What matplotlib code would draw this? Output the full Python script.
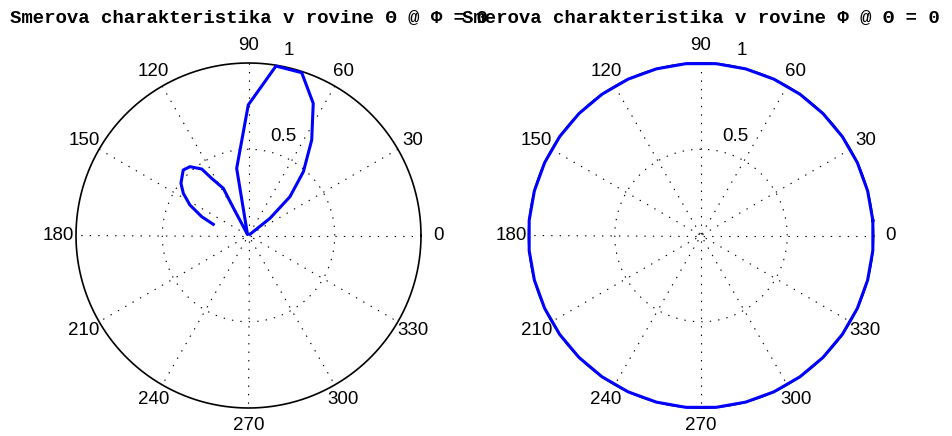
import numpy as np
import matplotlib
matplotlib.use('Agg')
import matplotlib.pyplot as plt

plt.rcParams['lines.scale_dashes'] = False

# ---- data ----
theta_left_deg = [162.4, 158.1, 152.5, 147.1, 142.3, 134.9, 130.4, 125.1, 122.8,
                  118.1, 118.7, 135.0, 100.0, 90.1, 80.8, 71.9, 63.9, 56.5, 49.3,
                  43.1, 38.7, 38.7]
r_left = [0.214, 0.292, 0.383, 0.450, 0.495, 0.536, 0.524, 0.471, 0.394,
          0.310, 0.190, 0.008, 0.395, 0.757, 0.995, 0.993, 0.853, 0.664, 0.488,
          0.329, 0.160, 0.011]

theta_right_deg = [5, 15, 25, 35, 45, 55, 65, 75, 85, 95, 105, 115, 125, 135, 145,
                   155, 165, 175, 185, 195, 205, 215, 225, 235, 245, 255, 265, 275,
                   285, 295, 305, 315, 325, 335, 345, 355, 5]
r_right = [1.0, 1.0, 1.0, 1.0, 1.0, 1.0, 1.0, 1.0, 1.0, 1.0, 1.0, 1.0, 1.0, 1.0,
           1.0, 1.0, 1.0, 1.0, 1.0, 1.0, 1.0, 1.0, 1.0, 1.0, 1.0, 1.0, 1.0, 1.0,
           1.0, 1.0, 1.0, 1.0, 1.0, 1.0, 1.0, 1.0, 1.0]

angle_ticks = [0, 30, 60, 90, 120, 150, 180, 210, 240, 270, 300, 330]
angle_labels = ['0', '30', '60', '90', '120', '150', '180', '210', '240', '270', '300', '330']
ring_values = [0.5, 1.0]
ring_labels = ['0.5', '1']

titles = ['Smerova charakteristika v rovine \u0398 @ \u03a6 = 0',
          'Smerova charakteristika v rovine \u03a6 @ \u0398 = 0']

# ---- figure ----
W, H = 952, 436
fig = plt.figure(figsize=(W / 100, H / 100), dpi=100)

R_px = 172.5
centers = [(248.5, 235.5), (701.0, 235.5)]
label_font = dict(family=['Liberation Sans', 'DejaVu Sans'], size=13.5)
title_font = dict(family=['Liberation Mono', 'DejaVu Sans Mono'], size=13.7,
                  weight='bold')
dot_style = (0, (1.0, 5.1))

datasets = [(theta_left_deg, r_left), (theta_right_deg, r_right)]

for (cx, cy), (tdeg, rv), title in zip(centers, datasets, titles):
    ax = fig.add_axes([(cx - R_px) / W, (H - cy - R_px) / H, 2 * R_px / W, 2 * R_px / H],
                      projection='polar')
    ax.set_ylim(0, 1)
    ax.set_axis_off()

    # spokes
    for a in angle_ticks[:6]:
        t = np.deg2rad(a)
        ax.plot([t, t, t + np.pi], [1.0, 0.0, 1.0], color='black', lw=0.8,
                linestyle=dot_style, clip_on=False)
    # inner ring (dotted)
    th = np.linspace(0, 2 * np.pi, 361)
    ax.plot(th, np.full_like(th, ring_values[0]), color='black', lw=0.8,
            linestyle=dot_style, clip_on=False)
    # outer ring (solid)
    ax.plot(th, np.full_like(th, ring_values[1]), color='black', lw=1.2,
            clip_on=False)

    # angle labels
    for a, lab in zip(angle_ticks, angle_labels):
        ax.text(np.deg2rad(a), 1.1, lab, ha='center', va='center',
                clip_on=False, **label_font)
    # ring labels
    ax.text(np.deg2rad(70.7), 0.611, ring_labels[0], ha='center', va='center',
            clip_on=False, **label_font)
    ax.text(np.deg2rad(77.6), 1.10, ring_labels[1], ha='center', va='center',
            clip_on=False, **label_font)

    # data
    ax.plot(np.deg2rad(tdeg), rv, color=(0, 0, 1), lw=2.2, clip_on=False,
            solid_joinstyle='round', zorder=5)

    fig.text(cx / W, (H - 22.7) / H, title, ha='center', va='baseline', **title_font)

fig.savefig('out.png', dpi=100)
